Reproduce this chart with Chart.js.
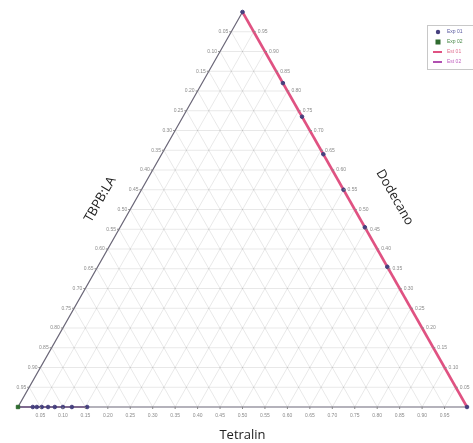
<!DOCTYPE html>
<html>
<head>
<meta charset="utf-8">
<script src="https://cdn.jsdelivr.net/npm/chart.js@4.4.0/dist/chart.umd.min.js"></script>
<style>
  html, body { margin: 0; padding: 0; background: #fff; }
  #wrap { width: 473px; height: 443px; position: relative; }
</style>
</head>
<body>
<div id="wrap"><canvas id="myChart" width="473" height="443"></canvas></div>
<script>
// ternary composition: tetralin (bottom-right corner), dodecano (top), TBPB:LA (bottom-left)
const tickValues = [0.05, 0.10, 0.15, 0.20, 0.25, 0.30, 0.35, 0.40, 0.45, 0.50,
                    0.55, 0.60, 0.65, 0.70, 0.75, 0.80, 0.85, 0.90, 0.95];
const tickLabels = tickValues.map(v => v.toFixed(2));

const exp01Tetralin = [0, 0.18, 0.265, 0.36, 0.45, 0.545, 0.645, 1,
                       0.033, 0.042, 0.053, 0.067, 0.082, 0.10, 0.12, 0.154];
const exp01Dodecano = [1, 0.82, 0.735, 0.64, 0.55, 0.455, 0.355, 0,
                       0, 0, 0, 0, 0, 0, 0, 0];

const exp02Tetralin = [0];
const exp02Dodecano = [0];

const est01Tetralin = [0, 1];
const est01Dodecano = [1, 0];

const est02Tetralin = [0, 0.154];
const est02Dodecano = [0, 0];

// tetralin/dodecano -> x/y on the triangle
const toXY = (t, d) => ({ x: t + d * 0.5, y: d });
const points = (ts, ds) => ts.map((t, i) => toXY(t, ds[i]));

const gridSets = [];
tickValues.forEach(v => {
  gridSets.push([toXY(0, v), toXY(1 - v, v)]);       // dodecano = v
  gridSets.push([toXY(v, 0), toXY(v, 1 - v)]);       // tetralin = v
  gridSets.push([toXY(1 - v, 0), toXY(0, 1 - v)]);   // TBPB:LA = v
});

const series = [
  { label: 'Exp 01', data: points(exp01Tetralin, exp01Dodecano), showLine: false,
    pointStyle: 'circle', pointRadius: 1.8, backgroundColor: '#46407e', borderColor: '#46407e',
    text: '#5a5aa0', order: 0 },
  { label: 'Exp 02', data: points(exp02Tetralin, exp02Dodecano), showLine: false,
    pointStyle: 'rect', pointRadius: 2.4, backgroundColor: '#2f6b2f', borderColor: '#2f6b2f',
    text: '#4a8a4a', order: 0 },
  { label: 'Est 01', data: points(est01Tetralin, est01Dodecano), showLine: true,
    pointRadius: 0, borderWidth: 2.6, borderColor: '#e05282', backgroundColor: '#e05282',
    text: '#e07090', order: 2 },
  { label: 'Est 02', data: points(est02Tetralin, est02Dodecano), showLine: true,
    pointRadius: 0, borderWidth: 1.5, borderColor: '#6e5380', backgroundColor: '#b050b0',
    text: '#c060c0', order: 1 }
];

const datasets = series.map(s => Object.assign({ clip: false }, s));
gridSets.forEach(g => datasets.push({
  label: 'grid', data: g, showLine: true, pointRadius: 0, borderWidth: 1,
  borderColor: 'rgba(0,0,0,0.09)', clip: false, order: 5
}));
datasets.push({
  label: 'frame', data: [toXY(0, 1), toXY(0, 0), toXY(1, 0)], showLine: true,
  pointRadius: 0, borderWidth: 1.2, borderColor: '#6b6778', clip: false, order: 3
});

const ternaryAxes = {
  id: 'ternaryAxes',
  afterDatasetsDraw(chart) {
    const ctx = chart.ctx;
    const xs = chart.scales.x, ys = chart.scales.y;
    const px = p => ({ x: xs.getPixelForValue(p.x), y: ys.getPixelForValue(p.y) });
    ctx.save();
    ctx.font = '5px "Liberation Sans"';
    ctx.fillStyle = '#8a8a8a';
    ctx.strokeStyle = '#888';
    ctx.lineWidth = 1;
    tickValues.forEach((v, i) => {
      const lbl = tickLabels[i];
      // bottom: tetralin
      let p = px(toXY(v, 0));
      ctx.beginPath(); ctx.moveTo(p.x, p.y); ctx.lineTo(p.x, p.y + 2); ctx.stroke();
      ctx.textAlign = 'center'; ctx.textBaseline = 'top';
      ctx.fillText(lbl, p.x, p.y + 6);
      // left: TBPB:LA
      p = px(toXY(0, 1 - v));
      ctx.beginPath(); ctx.moveTo(p.x, p.y); ctx.lineTo(p.x - 2, p.y); ctx.stroke();
      ctx.textAlign = 'right'; ctx.textBaseline = 'middle';
      ctx.fillText(lbl, p.x - 3, p.y);
      // right: dodecano
      p = px(toXY(1 - v, v));
      ctx.beginPath(); ctx.moveTo(p.x, p.y); ctx.lineTo(p.x + 2, p.y); ctx.stroke();
      ctx.textAlign = 'left';
      ctx.fillText(lbl, p.x + 4, p.y);
    });

    // axis titles
    ctx.fillStyle = '#222';
    ctx.font = '13px "Open Sans"';
    ctx.textAlign = 'center'; ctx.textBaseline = 'middle';
    const b = px({ x: 0.5, y: 0 });
    ctx.fillText('Tetralin', b.x, 435);
    const l = px(toXY(0, 0.5));
    ctx.save(); ctx.translate(l.x - 30, l.y - 10); ctx.rotate(-Math.PI / 3);
    ctx.fillText('TBPB:LA', 0, 0); ctx.restore();
    const r = px(toXY(0.5, 0.5));
    ctx.save(); ctx.translate(r.x + 40, r.y - 12); ctx.rotate(Math.PI / 3);
    ctx.fillText('Dodecano', 0, 0); ctx.restore();

    // legend box
    const lx = 427, ly = 25;
    ctx.fillStyle = '#fff';
    ctx.strokeStyle = '#c8c8c8';
    ctx.fillRect(lx, ly, 60, 44);
    ctx.strokeRect(lx + 0.5, ly + 0.5, 60, 44);
    ctx.font = '5px "Liberation Sans"';
    ctx.textAlign = 'left';
    series.forEach((s, i) => {
      const cy = ly + 7 + i * 10;
      const cx = lx + 11;
      if (s.showLine) {
        ctx.strokeStyle = s.backgroundColor; ctx.lineWidth = 2;
        ctx.beginPath(); ctx.moveTo(cx - 5, cy); ctx.lineTo(cx + 4, cy); ctx.stroke();
      } else if (s.pointStyle === 'rect') {
        ctx.fillStyle = s.backgroundColor; ctx.fillRect(cx - 2.5, cy - 2.5, 5, 5);
      } else {
        ctx.fillStyle = s.backgroundColor;
        ctx.beginPath(); ctx.arc(cx, cy, 2.2, 0, Math.PI * 2); ctx.fill();
      }
      ctx.fillStyle = s.text;
      ctx.fillText(s.label, lx + 20, cy);
    });
    ctx.restore();
  }
};

new Chart(document.getElementById('myChart').getContext('2d'), {
  type: 'scatter',
  data: { datasets: datasets },
  options: {
    responsive: false,
    animation: false,
    layout: { padding: { left: 18, right: 6, top: 12, bottom: 36 } },
    scales: {
      x: { type: 'linear', min: 0, max: 1, display: false },
      y: { type: 'linear', min: 0, max: 1, display: false }
    },
    plugins: { legend: { display: false }, tooltip: { enabled: false } }
  },
  plugins: [ternaryAxes]
});
</script>
</body>
</html>
